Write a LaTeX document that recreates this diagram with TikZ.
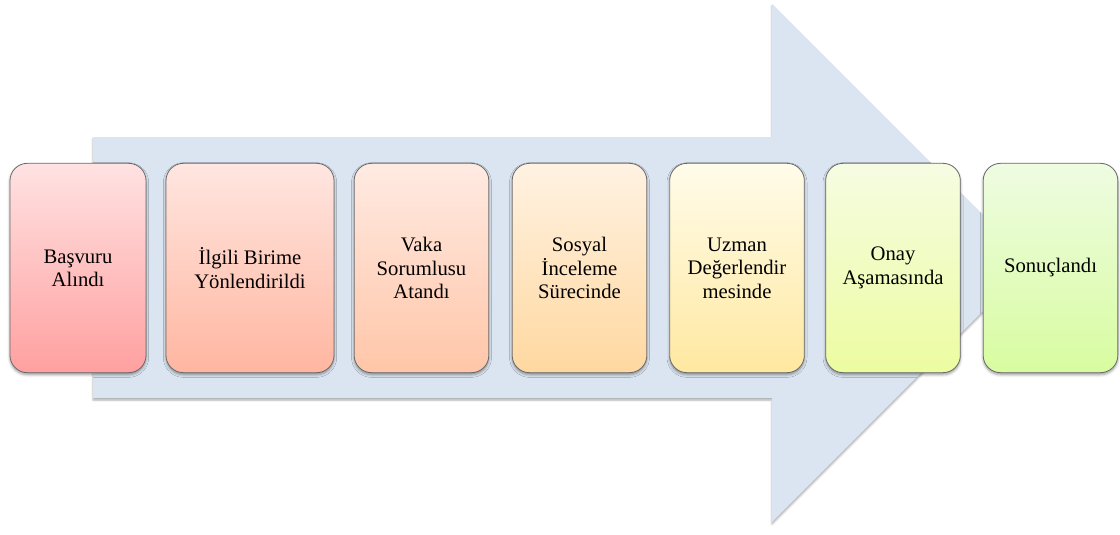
\documentclass[tikz,border=0pt]{standalone}
\usepackage{fontspec}
\setmainfont{Liberation Serif}
\usetikzlibrary{shadows.blur}
\definecolor{arrowblue}{RGB}{219,229,241}
\definecolor{edgegray}{RGB}{105,105,105}
\definecolor{c1t}{RGB}{255,226,226}\definecolor{c1b}{RGB}{255,160,160}
\definecolor{c2t}{RGB}{255,230,224}\definecolor{c2b}{RGB}{255,182,160}
\definecolor{c3t}{RGB}{255,234,226}\definecolor{c3b}{RGB}{255,198,168}
\definecolor{c4t}{RGB}{255,242,226}\definecolor{c4b}{RGB}{255,216,160}
\definecolor{c5t}{RGB}{255,252,234}\definecolor{c5b}{RGB}{255,232,160}
\definecolor{c6t}{RGB}{246,252,226}\definecolor{c6b}{RGB}{236,252,160}
\definecolor{c7t}{RGB}{238,252,226}\definecolor{c7b}{RGB}{216,252,160}
\tikzset{
  stagebox/.style={draw=edgegray, line width=0.6pt, rounded corners=13pt,
    minimum height=157pt, align=center, inner sep=2pt,
    font=\fontsize{15.5}{17.5}\selectfont,
    blur shadow={shadow xshift=0pt, shadow yshift=-1.5pt, shadow blur radius=2pt, shadow opacity=40}},
  shade1/.style={top color=c1t, bottom color=c1b},
  shade2/.style={top color=c2t, bottom color=c2b},
  shade3/.style={top color=c3t, bottom color=c3b},
  shade4/.style={top color=c4t, bottom color=c4b},
  shade5/.style={top color=c5t, bottom color=c5b},
  shade6/.style={top color=c6t, bottom color=c6b},
  shade7/.style={top color=c7t, bottom color=c7b},
}
\begin{document}
\begin{tikzpicture}[x=0.75pt, y=-0.75pt]
\useasboundingbox (0,0) rectangle (1120,535);
% big background arrow
\fill[arrowblue, blur shadow={shadow xshift=0pt, shadow yshift=-1.5pt, shadow blur radius=1.5pt, shadow opacity=35}]
  (93,137) -- (772,137) -- (772,4) -- (1031,263) -- (772,522) -- (772,398) -- (93,398) -- cycle;
% process stages
\node[stagebox, shade1, minimum width=102pt] (s1) at (78,268) {Başvuru\\Alındı};
\node[stagebox, shade2, minimum width=126pt] (s2) at (250,268) {İlgili Birime\\Yönlendirildi};
\node[stagebox, shade3, minimum width=101pt] (s3) at (421.5,268) {Vaka\\Sorumlusu\\Atandı};
\node[stagebox, shade4, minimum width=101pt] (s4) at (579.5,268) {Sosyal\\İnceleme\\Sürecinde};
\node[stagebox, shade5, minimum width=101pt] (s5) at (737,268) {Uzman\\Değerlendir\\mesinde};
\node[stagebox, shade6, minimum width=101pt] (s6) at (893,268) {Onay\\Aşamasında};
\node[stagebox, shade7, minimum width=101pt] (s7) at (1050.5,268) {Sonuçlandı};
\end{tikzpicture}
\end{document}
